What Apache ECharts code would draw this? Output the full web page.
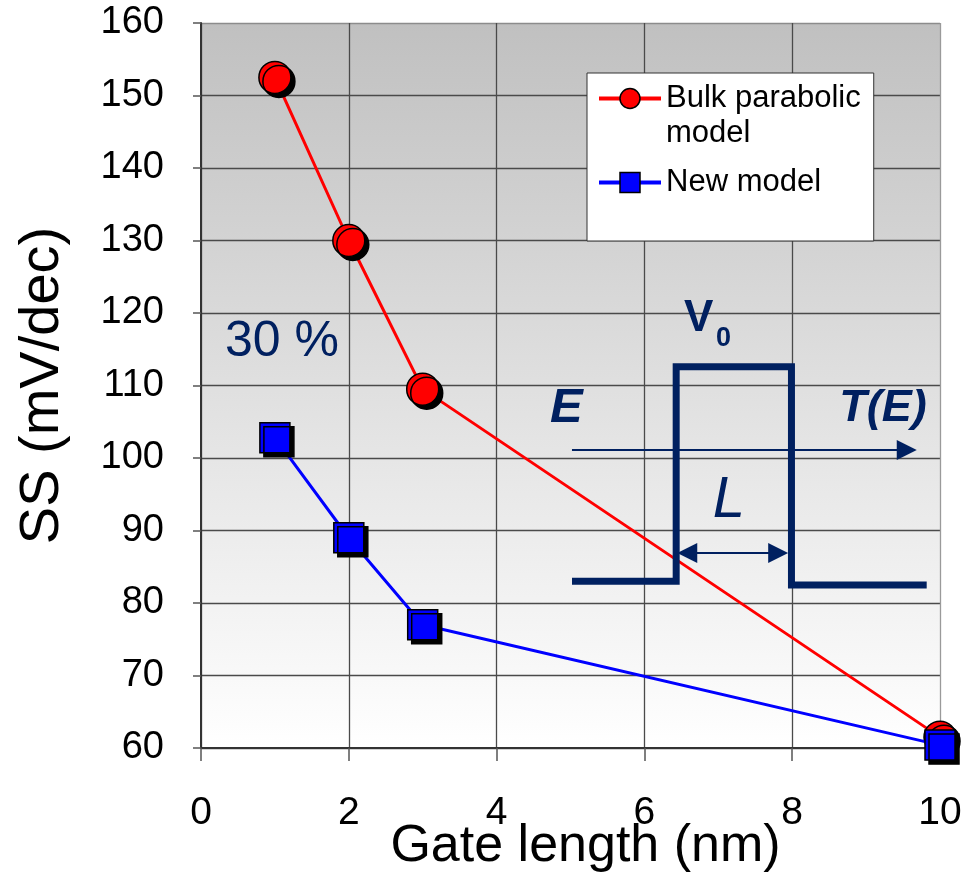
<!DOCTYPE html>
<html>
<head>
<meta charset="utf-8">
<script src="https://cdn.jsdelivr.net/npm/echarts@6/dist/echarts.min.js"></script>
<style>
  html, body { margin: 0; padding: 0; background: #fff; }
  #chart { width: 964px; height: 876px; }
</style>
</head>
<body>
<div id="chart"></div>
<script>
// ---- data ----
const gateLength = [1, 2, 3, 10];
const bulkParabolic = [152.5, 130, 109.5, 61.5];
const newModel = [102.8, 89, 77, 60.4];

const xTicks = [0, 2, 4, 6, 8, 10];
const yTicks = [60, 70, 80, 90, 100, 110, 120, 130, 140, 150, 160];

// inset sketch (barrier), in axis units
const barrierX = [5.02, 6.43, 6.43, 7.99, 7.99, 9.82];
const barrierY = [83.0, 83.0, 112.6, 112.6, 82.5, 82.5];
const energyArrowX = [5.02, 9.55];
const energyArrowY = [101.1, 101.1];
const widthArrowX = [6.58, 7.81];
const widthArrowY = [86.9, 86.9];

const NAVY = '#002060';
const FONT = 'Liberation Sans, Arial, sans-serif';

const zip = (xs, ys) => xs.map((x, i) => [x, ys[i]]);

const chart = echarts.init(document.getElementById('chart'), null, { renderer: 'canvas' });

// last grid line is drawn lighter, like the plot border
const ySplitColors = yTicks.map((v, i) => (i === yTicks.length - 1 ? '#8c8c8c' : '#4a4a4a'));
const xSplitColors = xTicks.map((v, i) => (i === xTicks.length - 1 ? '#9a9a9a' : '#4a4a4a'));

const markerShadow = {
    shadowColor: '#000',
    shadowBlur: 0,
    shadowOffsetX: 4,
    shadowOffsetY: 4,
};

const option = {
    backgroundColor: '#fff',
    animation: false,
    textStyle: { fontFamily: FONT },
    grid: {
        left: 201, right: 24, top: 23, bottom: 128,
        outerBoundsMode: 'none',
        containLabel: false,
        show: true,
        borderWidth: 0,
        backgroundColor: {
            type: 'linear', x: 0, y: 0, x2: 0, y2: 1,
            colorStops: [
                { offset: 0, color: '#c0c0c0' },
                { offset: 1, color: '#ffffff' },
            ],
        },
    },
    xAxis: {
        type: 'value',
        min: 0, max: 10, interval: 2,
        name: 'Gate length (nm)',
        nameLocation: 'middle',
        nameGap: 73,
        nameMoveOverlap: false,
        nameTextStyle: { fontSize: 52, color: '#000', fontFamily: FONT, padding: [0, 0, 0, 30] },
        axisLine: { show: true, onZero: false, lineStyle: { color: '#333', width: 2 } },
        axisTick: { show: true, length: 13, lineStyle: { color: '#555', width: 1.5 } },
        axisLabel: { fontSize: 39, color: '#000', margin: 46, fontFamily: FONT },
        splitLine: { show: true, lineStyle: { color: xSplitColors, width: 1.3 } },
    },
    yAxis: {
        type: 'value',
        min: 60, max: 160, interval: 10,
        name: 'SS (mV/dec)',
        nameLocation: 'middle',
        nameGap: 130,
        nameMoveOverlap: false,
        nameTextStyle: { fontSize: 56, color: '#000', fontFamily: FONT },
        axisLine: { show: true, onZero: false, lineStyle: { color: '#333', width: 2 } },
        axisTick: { show: true, length: 8, lineStyle: { color: '#555', width: 1.5 } },
        axisLabel: { fontSize: 38, color: '#000', margin: 37, fontFamily: FONT },
        splitLine: { show: true, lineStyle: { color: ySplitColors, width: 1.3 } },
    },
    legend: {
        orient: 'vertical',
        left: 587,
        top: 73,
        padding: [8, 13, 41, 10],
        itemGap: 49,
        itemWidth: 62,
        itemHeight: 25,
        backgroundColor: '#fff',
        borderColor: '#333',
        borderWidth: 1,
        borderRadius: 0,
        data: ['Bulk parabolic', 'New model'],
        textStyle: { fontSize: 31, color: '#000', lineHeight: 35, fontFamily: FONT },
        lineStyle: { width: 4 },
        itemStyle: { shadowColor: 'transparent', shadowOffsetX: 0, shadowOffsetY: 0, borderColor: '#000', borderWidth: 1.5 },
    },
    series: [
        {
            name: 'Bulk parabolic',
            type: 'line',
            data: zip(gateLength, bulkParabolic),
            symbol: 'circle',
            symbolSize: 32,
            lineStyle: { color: '#ff0000', width: 3 },
            itemStyle: { color: '#ff0000', borderColor: '#000', borderWidth: 1.5, ...markerShadow },
            z: 3,
        },
        {
            name: 'New model',
            type: 'line',
            data: zip(gateLength, newModel),
            symbol: 'rect',
            symbolSize: 30,
            lineStyle: { color: '#0000ff', width: 3 },
            itemStyle: { color: '#0000ff', borderColor: '#000', borderWidth: 1.5, ...markerShadow },
            z: 4,
        },
        {
            name: 'barrier',
            type: 'lines',
            coordinateSystem: 'cartesian2d',
            polyline: true,
            silent: true,
            z: 6,
            lineStyle: { color: NAVY, width: 7, opacity: 1, join: 'miter', cap: 'butt' },
            data: [{ coords: zip(barrierX, barrierY) }],
        },
        {
            name: 'arrows',
            type: 'lines',
            coordinateSystem: 'cartesian2d',
            silent: true,
            z: 6,
            lineStyle: { color: NAVY, width: 2, opacity: 1 },
            data: [
                { coords: zip(energyArrowX, energyArrowY), symbol: ['none', 'triangle'], symbolSize: 20 },
                { coords: zip(widthArrowX, widthArrowY), symbol: ['triangle', 'triangle'], symbolSize: 20 },
            ],
        },
    ],
    graphic: [
        // second line of the first legend entry
        { type: 'text', left: 666, top: 118, z: 100,
          style: { text: 'model', font: '31px ' + FONT, fill: '#000' } },
        { type: 'text', x: 225, y: 342.5, z: 100,
          style: { text: '30 %', font: '50px ' + FONT, fill: NAVY, verticalAlign: 'middle' } },
        { type: 'text', x: 684, y: 319, z: 100,
          style: { text: 'V', font: 'bold 44px ' + FONT, fill: NAVY, verticalAlign: 'middle' } },
        { type: 'text', x: 716, y: 339, z: 100,
          style: { text: '0', font: 'bold 27px ' + FONT, fill: NAVY, verticalAlign: 'middle' } },
        { type: 'text', x: 550, y: 408, z: 100,
          style: { text: 'E', font: 'italic bold 49px ' + FONT, fill: NAVY, verticalAlign: 'middle' } },
        { type: 'text', x: 883, y: 409, z: 100,
          style: { text: 'T(E)', font: 'italic bold 45px ' + FONT, fill: NAVY, align: 'center', verticalAlign: 'middle' } },
        { type: 'text', x: 729, y: 501, z: 100,
          style: { text: 'L', font: 'italic 58px ' + FONT, fill: NAVY, align: 'center', verticalAlign: 'middle' } },
    ],
};

chart.setOption(option);
</script>
</body>
</html>
